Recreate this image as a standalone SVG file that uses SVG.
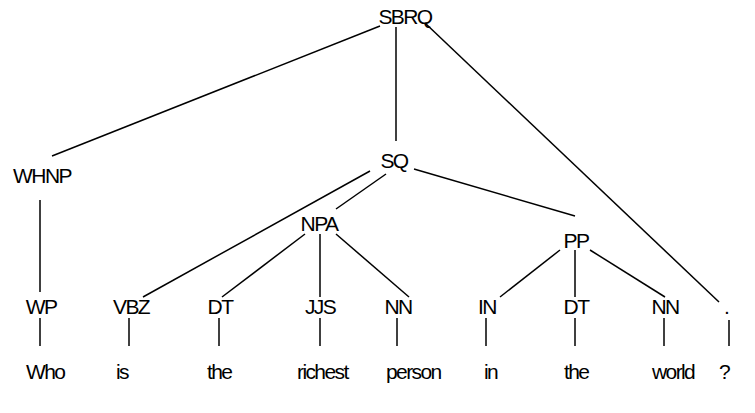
<svg xmlns="http://www.w3.org/2000/svg" width="755" height="413" viewBox="0 0 755 413">
<style>
text{font-family:"Liberation Sans",Arial,sans-serif;font-size:21px;fill:#000;letter-spacing:-1.6px}
.c text{text-anchor:middle}
line{stroke:#000;stroke-width:1.5}
</style>
<rect width="755" height="413" fill="#fff"/>
<g id="connectors">
<line x1="380" y1="26" x2="52" y2="156"/>
<line x1="396" y1="27" x2="396" y2="141"/>
<line x1="425" y1="23" x2="719" y2="302"/>
<line x1="40" y1="200" x2="40" y2="292"/>
<line x1="370" y1="171" x2="143" y2="297"/>
<line x1="386" y1="174" x2="336" y2="209"/>
<line x1="414" y1="169" x2="575" y2="216"/>
<line x1="305" y1="234" x2="222" y2="297"/>
<line x1="320" y1="234" x2="320" y2="297"/>
<line x1="336" y1="234" x2="409" y2="297"/>
<line x1="560" y1="250" x2="500" y2="297"/>
<line x1="575" y1="250" x2="575" y2="297"/>
<line x1="590" y1="250" x2="665" y2="297"/>
<line x1="40" y1="318" x2="40" y2="346"/>
<line x1="129" y1="318" x2="129" y2="346"/>
<line x1="219" y1="318" x2="219" y2="346"/>
<line x1="320" y1="318" x2="320" y2="346"/>
<line x1="397" y1="318" x2="397" y2="346"/>
<line x1="486" y1="318" x2="486" y2="346"/>
<line x1="575" y1="318" x2="575" y2="346"/>
<line x1="664" y1="318" x2="664" y2="346"/>
<line x1="729" y1="320" x2="729" y2="346"/>
</g>
<g class="c">
<g id="n-sbrq"><text x="405" y="24">SBRQ</text></g>
<g id="n-whnp"><text x="42" y="183">WHNP</text></g>
<g id="n-sq"><text x="394" y="168">SQ</text></g>
<g id="n-npa"><text x="319" y="231">NPA</text></g>
<g id="n-pp"><text x="576" y="248">PP</text></g>
<g id="n-wp"><text x="41" y="314">WP</text></g>
<g id="n-vbz"><text x="131" y="314">VBZ</text></g>
<g id="n-dt1"><text x="220" y="314">DT</text></g>
<g id="n-jjs"><text x="320" y="314">JJS</text></g>
<g id="n-nn1"><text x="398" y="314">NN</text></g>
<g id="n-in"><text x="487" y="314">IN</text></g>
<g id="n-dt2"><text x="576" y="314">DT</text></g>
<g id="n-nn2"><text x="665" y="314">NN</text></g>
<g id="n-dot"><text x="726" y="314">.</text></g>
</g>
<g id="words">
<g id="w-who"><text x="26" y="379">Who</text></g>
<g id="w-is"><text x="116" y="379">is</text></g>
<g id="w-the1"><text x="207" y="379">the</text></g>
<g id="w-richest"><text x="297" y="379">richest</text></g>
<g id="w-person"><text x="386" y="379">person</text></g>
<g id="w-in"><text x="484" y="379">in</text></g>
<g id="w-the2"><text x="564" y="379">the</text></g>
<g id="w-world"><text x="652" y="379">world</text></g>
<g id="w-q"><text x="719" y="379">?</text></g>
</g>
</svg>
